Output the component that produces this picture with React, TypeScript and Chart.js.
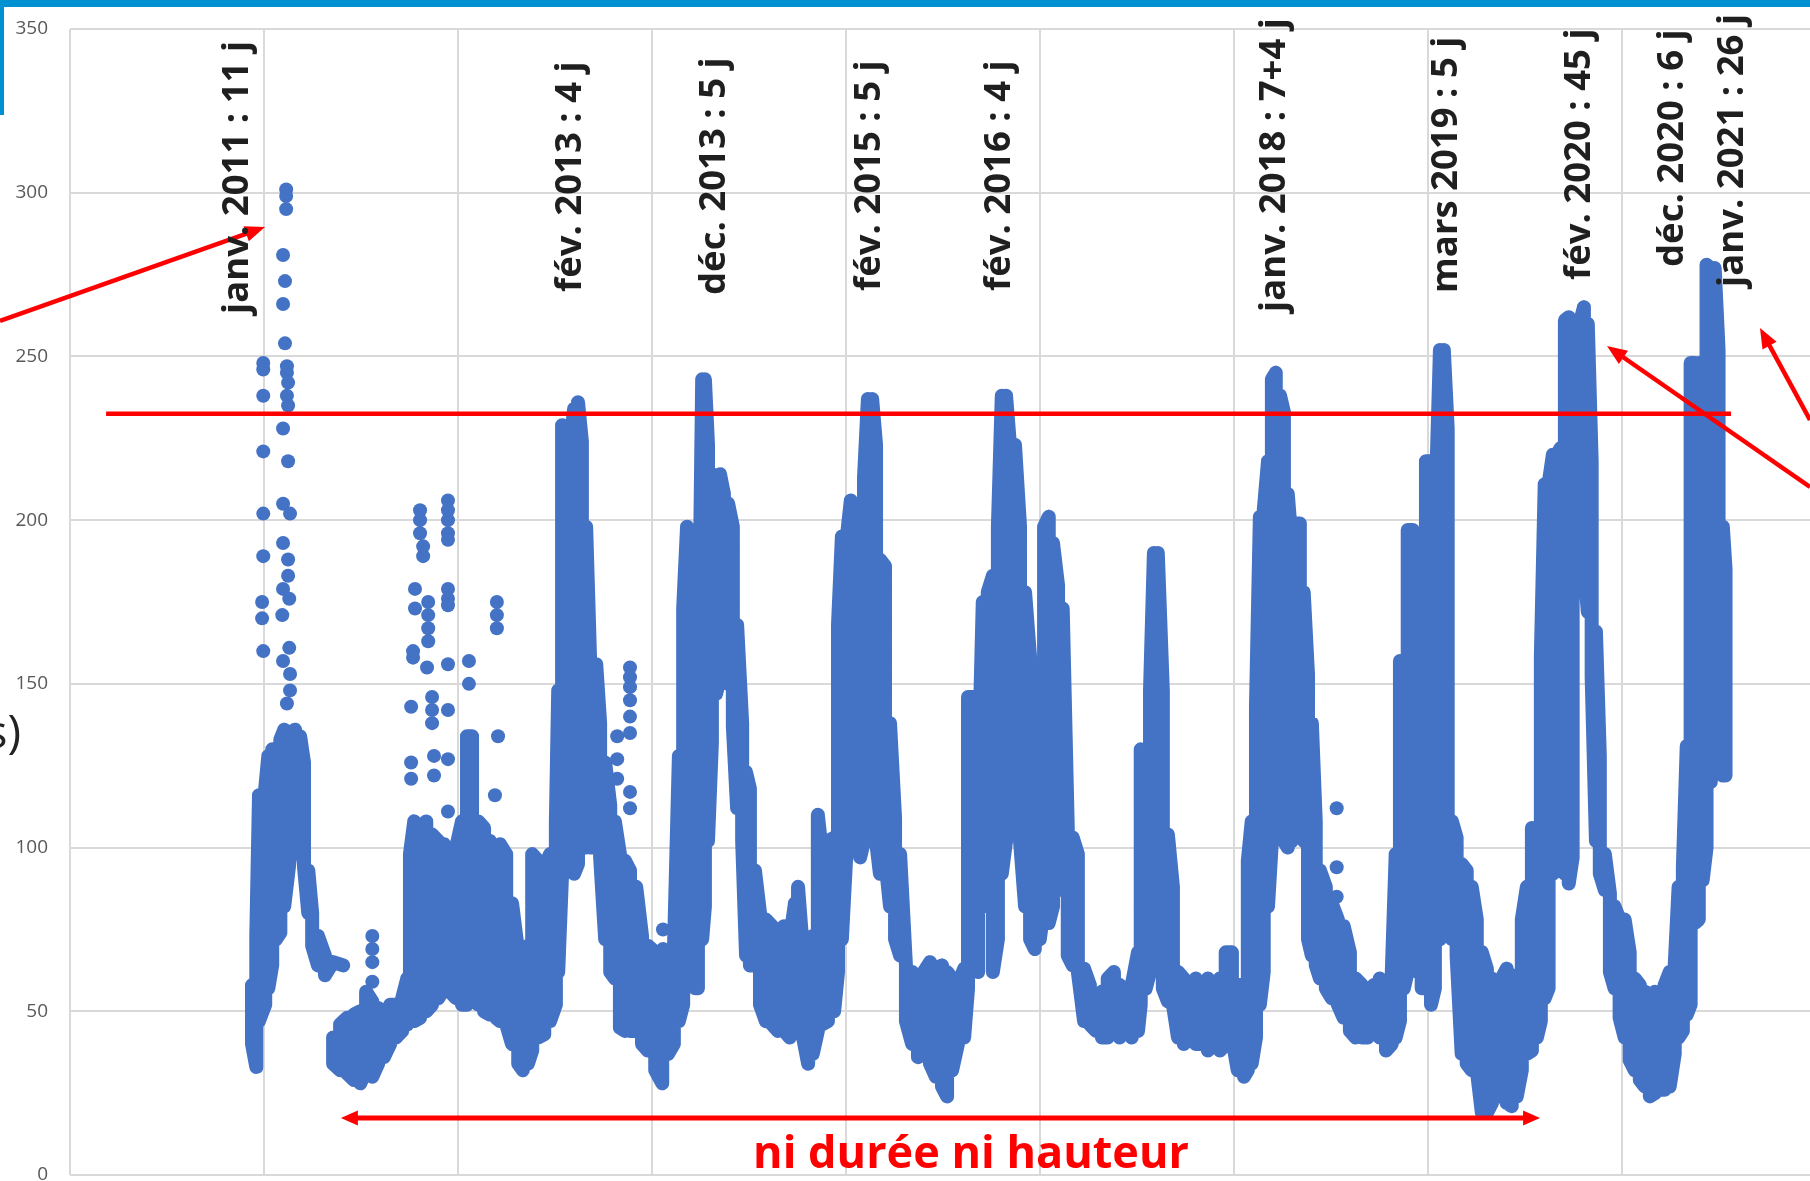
import React, { useEffect, useRef } from 'react';
import { Chart, registerables } from 'chart.js';

Chart.register(...registerables);

// ---------- DATA (x = Excel date serial, y = débit m³/s) ----------
// Upper / lower edge of the daily scatter cloud at each date (null = data gap)
const bandDays = [
  40469, 40480, 40487, 40503, 40511, 40521, 40531, 40542, 40552, 40567,
  40580, 40593, 40603, 40614, 40624, 40639, 40657, 40678, 40704, 40705,
  40678, 40696, 40714, 40732, 40748, 40763, 40779, 40794, 40809, 40825,
  40840, 40856, 40869, 40876, 40887, 40902, 40918, 40933, 40949, 40964,
  40979, 40995, 41010, 41023, 41036, 41052, 41067, 41082, 41098, 41108,
  41124, 41139, 41155, 41167, 41180, 41191, 41206, 41222, 41237, 41252,
  41258, 41268, 41278, 41289, 41299, 41309, 41319, 41330, 41340, 41356,
  41366, 41379, 41392, 41404, 41417, 41430, 41443, 41459, 41474, 41489,
  41508, 41526, 41541, 41556, 41569, 41580, 41590, 41600, 41611, 41618,
  41629, 41636, 41644, 41654, 41665, 41675, 41685, 41696, 41708, 41719,
  41732, 41742, 41752, 41765, 41778, 41793, 41809, 41824, 41840, 41855,
  41868, 41876, 41889, 41902, 41914, 41927, 41938, 41953, 41969, 41979,
  41989, 42000, 42012, 42025, 42036, 42046, 42056, 42067, 42077, 42087,
  42100, 42113, 42126, 42139, 42154, 42170, 42185, 42200, 42216, 42231,
  42247, 42260, 42273, 42288, 42304, 42314, 42327, 42340, 42352, 42365,
  42378, 42391, 42401, 42412, 42422, 42435, 42448, 42461, 42474, 42486,
  42499, 42510, 42522, 42533, 42546, 42558, 42571, 42584, 42597, 42613,
  42628, 42644, 42659, 42674, 42690, 42705, 42721, 42736, 42752, 42759,
  42772, 42783, 42793, 42803, 42816, 42829, 42842, 42855, 42870, 42886,
  42901, 42917, 42932, 42947, 42963, 42978, 42994, 43009, 43025, 43035,
  43045, 43056, 43066, 43076, 43087, 43097, 43107, 43118, 43128, 43138,
  43148, 43159, 43169, 43179, 43190, 43200, 43210, 43221, 43236, 43251,
  43267, 43282, 43298, 43313, 43329, 43344, 43360, 43375, 43391, 43406,
  43416, 43427, 43437, 43447, 43460, 43473, 43483, 43494, 43507, 43517,
  43530, 43540, 43550, 43561, 43573, 43586, 43599, 43612, 43625, 43638,
  43651, 43664, 43677, 43689, 43702, 43715, 43728, 43741, 43754, 43767,
  43780, 43790, 43800, 43810, 43821, 43831, 43841, 43852, 43862, 43872,
  43883, 43890, 43901, 43911, 43921, 43932, 43942, 43955, 43968, 43980,
  43993, 44006, 44019, 44032, 44045, 44058, 44071, 44084, 44096, 44109,
  44122, 44135, 44145, 44156, 44166, 44176, 44187, 44197, 44207, 44217,
  44228, 44238, 44248, 44259, 44266,
];

const bandHigh: (number | null)[] = [
  58, 73, 116, 118, 128, 130, 126, 133, 136, 135,
  136, 134, 126, 93, 80, 73, 67, 65, 64, null,
  42, 46, 48, 49, 50, 56, 53, 51, 50, 52,
  52, 54, 60, 98, 108, 106, 108, 104, 102, 101,
  98, 100, 108, 134, 134, 108, 106, 102, 98, 101,
  98, 83, 68, 66, 70, 98, 96, 94, 98, 108,
  148, 229, 226, 223, 234, 236, 224, 198, 158, 156,
  138, 126, 113, 108, 98, 96, 93, 88, 73, 70,
  68, 68, 63, 68, 128, 173, 198, 173, 98, 138,
  243, 243, 223, 214, 210, 214, 208, 205, 198, 168,
  138, 123, 118, 93, 80, 78, 76, 74, 76, 72,
  83, 88, 68, 60, 73, 110, 98, 102, 103, 168,
  195, 193, 206, 203, 198, 213, 237, 237, 223, 188,
  186, 138, 109, 98, 64, 62, 60, 62, 65, 63,
  64, 62, 60, 58, 63, 146, 146, 118, 175, 178,
  183, 198, 238, 238, 223, 223, 198, 178, 158, 118,
  123, 198, 201, 193, 180, 173, 106, 103, 98, 63,
  58, 53, 56, 60, 62, 58, 56, 58, 68, 130,
  128, 148, 190, 190, 148, 104, 88, 62, 60, 58,
  60, 58, 60, 58, 60, 68, 68, 58, 58, 96,
  108, 143, 201, 203, 218, 243, 245, 238, 233, 208,
  193, 199, 199, 178, 153, 138, 108, 93, 88, 83,
  78, 76, 68, 60, 58, 56, 58, 60, 58, 62,
  98, 157, 148, 197, 197, 168, 166, 218, 218, 198,
  252, 252, 228, 108, 103, 95, 93, 88, 78, 68,
  63, 60, 58, 60, 63, 61, 58, 78, 88, 106,
  103, 158, 211, 211, 220, 220, 222, 261, 262, 248,
  258, 260, 265, 260, 218, 166, 128, 98, 86, 82,
  78, 78, 68, 60, 58, 56, 55, 56, 54, 58,
  62, 64, 88, 94, 131, 248, 248, 248, 248, 278,
  277, 277, 252, 198, 185,
];

const bandLow: (number | null)[] = [
  40, 33, 47, 52, 57, 64, 72, 74, 82, 97,
  100, 98, 94, 80, 70, 64, 61, 65, 64, null,
  34, 32, 31, 29, 28, 32, 30, 34, 36, 40,
  42, 44, 46, 50, 47, 48, 50, 52, 54, 57,
  56, 54, 52, 52, 54, 52, 50, 49, 48, 47,
  46, 40, 34, 32, 34, 38, 42, 43, 47, 52,
  62, 92, 94, 97, 92, 95, 100, 100, 100, 100,
  97, 72, 62, 60, 45, 44, 44, 44, 40, 38,
  32, 28, 37, 40, 47, 52, 62, 72, 57, 57,
  72, 82, 102, 132, 147, 152, 152, 150, 137, 112,
  102, 67, 64, 64, 52, 47, 46, 44, 44, 42,
  44, 47, 42, 34, 37, 44, 46, 47, 50, 62,
  72, 97, 102, 102, 97, 102, 112, 117, 102, 92,
  97, 82, 72, 67, 47, 40, 36, 37, 34, 30,
  27, 24, 32, 40, 42, 57, 67, 62, 82, 97,
  62, 72, 92, 102, 112, 122, 102, 82, 72, 69,
  72, 82, 77, 82, 87, 92, 67, 64, 62, 47,
  46, 44, 42, 42, 44, 42, 44, 42, 44, 52,
  57, 62, 67, 72, 57, 53, 52, 42, 40, 42,
  40, 40, 38, 40, 38, 40, 42, 32, 30, 32,
  34, 42, 52, 62, 82, 102, 117, 117, 102, 100,
  102, 107, 112, 102, 72, 67, 64, 60, 57, 54,
  52, 48, 44, 42, 42, 42, 44, 42, 38, 40,
  42, 47, 57, 62, 64, 62, 57, 62, 52, 57,
  72, 82, 82, 72, 67, 37, 34, 32, 32, 19,
  19, 22, 24, 24, 22, 21, 24, 32, 37, 38,
  42, 47, 54, 57, 92, 105, 100, 92, 89, 97,
  187, 187, 187, 172, 152, 102, 92, 87, 62, 57,
  48, 42, 35, 32, 29, 27, 24, 25, 26, 26,
  27, 37, 42, 44, 49, 52, 77, 78, 90, 100,
  120, 165, 160, 122, 122,
];

// Isolated daily values that stand apart from the cloud
const dotDays = [
  40498, 40498, 40498, 40498, 40498, 40498, 40498, 40495, 40495,
  40549, 40549, 40549, 40549, 40549, 40549, 40549, 40547, 40554, 40554,
  40557, 40557, 40557, 40559, 40559, 40559, 40559,
  40562, 40562, 40562, 40562, 40562, 40565, 40565, 40567, 40567, 40567,
  40779, 40779, 40779, 40779,
  40879, 40879, 40879, 40884, 40884, 40889, 40889, 40902, 40902, 40902,
  40910, 40910, 40923, 40923, 40923, 40923, 40920, 40933, 40933, 40933,
  40938, 40938,
  40974, 40974, 40974, 40974, 40974, 40974, 40974, 40974, 40974, 40974, 40974, 40974,
  41028, 41028, 41100, 41100, 41100, 41103, 41095,
  41410, 41410, 41410,
  41443, 41443, 41443, 41443, 41443, 41443, 41443, 41443,
  41528, 41528,
  43264, 43264, 43264,
];

const dotValues = [
  248, 246, 238, 221, 202, 189, 160, 175, 170,
  157, 179, 193, 205, 228, 266, 281, 171, 254, 273,
  301, 299, 295, 144, 238, 245, 247,
  183, 188, 218, 235, 242, 161, 176, 148, 153, 202,
  73, 69, 65, 59,
  121, 126, 143, 158, 160, 173, 179, 203, 200, 196,
  192, 189, 175, 171, 167, 163, 155, 146, 142, 138,
  128, 122,
  206, 203, 200, 196, 194, 179, 176, 174, 156, 142, 127, 111,
  157, 150, 175, 171, 167, 134, 116,
  134, 127, 121,
  155, 152, 149, 145, 140, 135, 117, 112,
  75, 69,
  112, 94, 85,
];

const xGridDays = [40000, 40500, 41000, 41500, 42000, 42500, 43000, 43500, 44000];
const yTickStep = 50;

const floodLabels = [
  'janv. 2011 : 11 j',
  'fév. 2013 : 4 j',
  'déc. 2013 : 5 j',
  'fév. 2015 : 5 j',
  'fév. 2016 : 4 j',
  'janv. 2018 : 7+4 j',
  'mars 2019 : 5 j',
  'fév. 2020 : 45 j',
  'déc. 2020 : 6 j',
  'janv. 2021 : 26 j',
];

const thresholdValue = 232.5;
const thresholdSpan = [40093, 44280];
const bottomArrowSpan = [40698, 43788];
const bottomArrowValue = 17.4;
const bottomText = 'ni durée ni hauteur';
const axisTitle = '(m³/s)';

// ---------- LAYOUT / STYLE ----------
const W = 1810;
const H = 1181;
const BLUE = '#4472C4';
const RED = '#FF0000';
const FONT = '"Open Sans", "Noto Sans", "DejaVu Sans", sans-serif';
// baseline x, start y of each rotated label
const labelAnchors = [
  [248, 314], [581, 292], [725, 295], [880, 291], [1010, 291],
  [1285, 312], [1457, 293], [1590, 280], [1683, 267], [1743, 287],
];
// pixel arrows: [fromX, fromY, toX, toY]
const pointerArrows = [
  [0, 321, 265, 227],
  [1810, 487, 1607, 346],
  [1810, 420, 1760, 328],
];

function buildBand() {
  const pts: { x: number; y: number | null }[] = [];
  let flip = false;
  for (let i = 0; i < bandDays.length; i++) {
    const hi = bandHigh[i];
    const lo = bandLow[i];
    if (hi == null || lo == null) {
      pts.push({ x: bandDays[i], y: null });
      flip = false;
      continue;
    }
    if (flip) {
      pts.push({ x: bandDays[i], y: lo });
      pts.push({ x: bandDays[i], y: hi });
    } else {
      pts.push({ x: bandDays[i], y: hi });
      pts.push({ x: bandDays[i], y: lo });
    }
    flip = !flip;
  }
  return pts;
}

function arrowHead(ctx: CanvasRenderingContext2D, x1: number, y1: number, x2: number, y2: number, len: number, half: number) {
  const a = Math.atan2(y2 - y1, x2 - x1);
  const bx = x2 - Math.cos(a) * len;
  const by = y2 - Math.sin(a) * len;
  ctx.beginPath();
  ctx.moveTo(x2, y2);
  ctx.lineTo(bx + Math.sin(a) * half, by - Math.cos(a) * half);
  ctx.lineTo(bx - Math.sin(a) * half, by + Math.cos(a) * half);
  ctx.closePath();
  ctx.fill();
}

function arrow(ctx: CanvasRenderingContext2D, x1: number, y1: number, x2: number, y2: number, w: number, len: number, half: number) {
  const a = Math.atan2(y2 - y1, x2 - x1);
  ctx.lineWidth = w;
  ctx.beginPath();
  ctx.moveTo(x1, y1);
  ctx.lineTo(x2 - Math.cos(a) * (len - 2), y2 - Math.sin(a) * (len - 2));
  ctx.stroke();
  arrowHead(ctx, x1, y1, x2, y2, len, half);
}

const overlayPlugin = {
  id: 'overlay',
  afterDraw(chart: any) {
    const ctx: CanvasRenderingContext2D = chart.ctx;
    const xs = chart.scales.x;
    const ys = chart.scales.y;
    ctx.save();

    // slide decoration
    ctx.fillStyle = '#0091D3';
    ctx.fillRect(0, 0, W, 7);
    ctx.fillRect(0, 0, 4, 115);

    // axis title (cut by the left edge)
    ctx.fillStyle = '#222222';
    ctx.font = `400 46px ${FONT}`;
    ctx.textAlign = 'right';
    ctx.textBaseline = 'alphabetic';
    ctx.fillText(axisTitle, 21, 748);

    ctx.strokeStyle = RED;
    ctx.fillStyle = RED;
    ctx.lineCap = 'butt';

    // threshold line
    const ty = ys.getPixelForValue(thresholdValue);
    ctx.lineWidth = 4.5;
    ctx.beginPath();
    ctx.moveTo(xs.getPixelForValue(thresholdSpan[0]), ty);
    ctx.lineTo(xs.getPixelForValue(thresholdSpan[1]), ty);
    ctx.stroke();

    // pointer arrows
    for (const [a, b, c, d] of pointerArrows) arrow(ctx, a, b, c, d, 4.5, 20, 8);

    // bottom double arrow
    const by = ys.getPixelForValue(bottomArrowValue);
    const bx1 = xs.getPixelForValue(bottomArrowSpan[0]);
    const bx2 = xs.getPixelForValue(bottomArrowSpan[1]);
    ctx.lineWidth = 5;
    ctx.beginPath();
    ctx.moveTo(bx1 + 12, by);
    ctx.lineTo(bx2 - 12, by);
    ctx.stroke();
    arrowHead(ctx, bx2, by, bx1, by, 17, 7.5);
    arrowHead(ctx, bx1, by, bx2, by, 17, 7.5);

    // bottom text
    ctx.font = `700 45px ${FONT}`;
    ctx.textAlign = 'center';
    ctx.fillText(bottomText, 971, 1168);

    // rotated flood labels
    ctx.fillStyle = '#1f1f1f';
    ctx.font = `700 36.5px ${FONT}`;
    ctx.textAlign = 'left';
    ctx.textBaseline = 'alphabetic';
    floodLabels.forEach((t, i) => {
      const [x, y] = labelAnchors[i];
      ctx.save();
      ctx.translate(x, y);
      ctx.rotate(-Math.PI / 2);
      ctx.fillText(t, 0, 0);
      ctx.restore();
    });

    ctx.restore();
  },
};

export default function App() {
  const ref = useRef<HTMLCanvasElement>(null);
  useEffect(() => {
    document.body.style.margin = '0';
    const canvas = ref.current;
    if (!canvas) return;
    const band = buildBand();
    const dots = dotDays.map((d, i) => ({ x: d, y: dotValues[i] }));
    const chart = new Chart(canvas, {
      type: 'scatter',
      data: {
        datasets: [
          {
            data: band as any,
            showLine: true,
            borderColor: BLUE,
            backgroundColor: BLUE,
            borderWidth: 14,
            borderCapStyle: 'round',
            borderJoinStyle: 'round',
            pointRadius: 0,
            pointHoverRadius: 0,
            spanGaps: false,
          } as any,
          {
            data: dots,
            showLine: false,
            pointRadius: 7,
            pointHoverRadius: 7,
            pointBackgroundColor: BLUE,
            pointBorderWidth: 0,
            backgroundColor: BLUE,
            borderColor: BLUE,
          } as any,
        ],
      },
      options: {
        responsive: false,
        animation: false,
        devicePixelRatio: 1,
        events: [],
        layout: { autoPadding: false, padding: { top: 29, bottom: 6, left: 0, right: 0 } },
        plugins: { legend: { display: false }, tooltip: { enabled: false } },
        scales: {
          x: {
            type: 'linear',
            min: 40000,
            max: 44483.6,
            ticks: { display: false },
            grid: { color: '#d9d9d9', lineWidth: 2, drawTicks: false },
            border: { display: false },
            afterBuildTicks: (s: any) => {
              s.ticks = xGridDays.map((v) => ({ value: v }));
            },
            afterFit: (s: any) => {
              s.height = 0;
              s.paddingLeft = 0;
              s.paddingRight = 0;
            },
          },
          y: {
            min: 0,
            max: 350,
            ticks: {
              stepSize: yTickStep,
              color: '#595959',
              padding: 22,
              font: { family: FONT, size: 19 },
            },
            grid: { color: '#d9d9d9', lineWidth: 2, drawTicks: false },
            border: { display: false },
            afterFit: (s: any) => {
              s.width = 70;
              s.paddingTop = 0;
              s.paddingBottom = 0;
            },
          },
        },
      } as any,
      plugins: [overlayPlugin],
    });
    let alive = true;
    if ((document as any).fonts && (document as any).fonts.load) {
      Promise.all([
        (document as any).fonts.load(`700 36px "Open Sans"`),
        (document as any).fonts.load(`400 19px "Open Sans"`),
      ]).then(() => {
        if (alive) chart.update();
      }).catch(() => {});
    }
    return () => {
      alive = false;
      chart.destroy();
    };
  }, []);
  return (
    <div style={{ position: 'fixed', left: 0, top: 0, width: W, height: H, background: '#fff', overflow: 'hidden' }}>
      <canvas ref={ref} width={W} height={H} style={{ display: 'block' }} />
    </div>
  );
}
